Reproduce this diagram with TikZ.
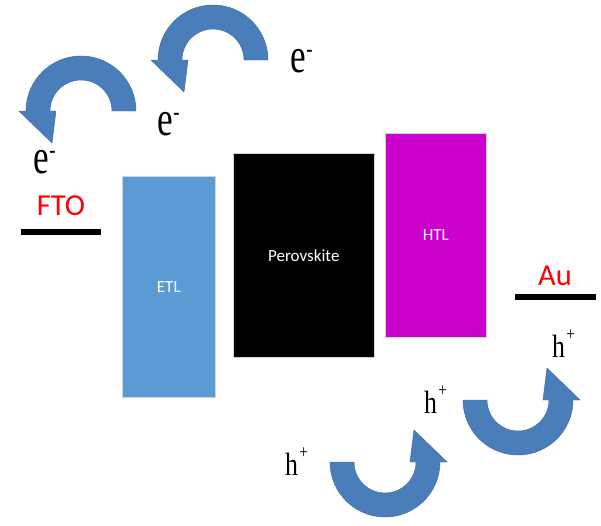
\documentclass[tikz,border=0pt]{standalone}
\usepackage{fontspec}
\setmainfont{Carlito}
\newfontfamily\hurufSerif{Liberation Serif}
\usepackage{tikz}
\definecolor{biruETL}{RGB}{91,155,213}
\definecolor{biruPanah}{RGB}{74,126,187}
\definecolor{unguHTL}{RGB}{204,0,204}
\definecolor{merahElek}{RGB}{255,0,0}

\begin{document}
\begin{tikzpicture}[x=0.03cm, y=0.03cm,
  lap/.style={draw=gray!35, line width=0.5pt, inner sep=0pt, anchor=north west, text=white, font=\fontsize{14.5}{17}\selectfont},
  lapE/.style={lap, fill=biruETL, minimum width=2.79cm, minimum height=6.63cm},
  lapP/.style={lap, fill=black, minimum width=4.23cm, minimum height=6.12cm},
  lapH/.style={lap, fill=unguHTL, minimum width=3.03cm, minimum height=6.12cm},
  elek/.style={line width=4.4pt},
  elekL/.style={text=merahElek, inner sep=0pt, anchor=base, font=\fontsize{26}{30}\selectfont},
  muatanE/.style={inner sep=0pt, anchor=base west, font=\hurufSerif\fontsize{30}{30}\selectfont},
  muatanH/.style={inner sep=0pt, anchor=base west, font=\hurufSerif\fontsize{22}{22}\selectfont},
  panah/.style={fill=biruPanah, draw=biruPanah!85!black, line width=0.4pt},
]
  \useasboundingbox (0,0) rectangle (601,-525);

  % lapisan
  \node[lapE] (etl) at (122,-176) {ETL};
  \node[lapP] (pero) at (233,-153) {Perovskite};
  \node[lapH] (htl) at (385,-133) {HTL};

  % elektroda
  \draw[elek] (21,-232) -- (101,-232);
  \node[elekL] (fto) at (61,-215) {FTO};
  \draw[elek] (515,-297) -- (596,-297);
  \node[elekL] (au) at (555,-285) {Au};

  % panah lompatan muatan
  \foreach \cx/\cy/\rot in {81/111/0, 213/60/0, 385/462/180, 518/400/180}{
    \begin{scope}[shift={(\cx,-\cy)}, rotate=\rot]
      \filldraw[panah] (55,0) arc[start angle=0, end angle=180, radius=55]
        -- (-62,0) -- (-29,-32) -- (-25,0) -- (-31,0)
        arc[start angle=180, end angle=0, radius=31] -- cycle;
    \end{scope}
  }

  % elektron
  \node[muatanE] (e1) at (33,-173) {\scalebox{1}[1.4]{e\kern0.5pt\raisebox{9pt}{\fontsize{16}{16}\selectfont -}}};
  \node[muatanE] (e2) at (157,-135) {\scalebox{1}[1.4]{e\kern0.5pt\raisebox{9pt}{\fontsize{16}{16}\selectfont -}}};
  \node[muatanE] (e3) at (290,-72) {\scalebox{1}[1.4]{e\kern0.5pt\raisebox{9pt}{\fontsize{16}{16}\selectfont -}}};

  % hole
  \node[muatanH] (h1) at (285,-475) {\scalebox{1}[1.25]{h\kern1pt\raisebox{11.5pt}{\fontsize{13}{13}\selectfont +}}};
  \node[muatanH] (h2) at (424,-413) {\scalebox{1}[1.25]{h\kern1pt\raisebox{11.5pt}{\fontsize{13}{13}\selectfont +}}};
  \node[muatanH] (h3) at (552,-357) {\scalebox{1}[1.25]{h\kern1pt\raisebox{11.5pt}{\fontsize{13}{13}\selectfont +}}};
\end{tikzpicture}
\end{document}
